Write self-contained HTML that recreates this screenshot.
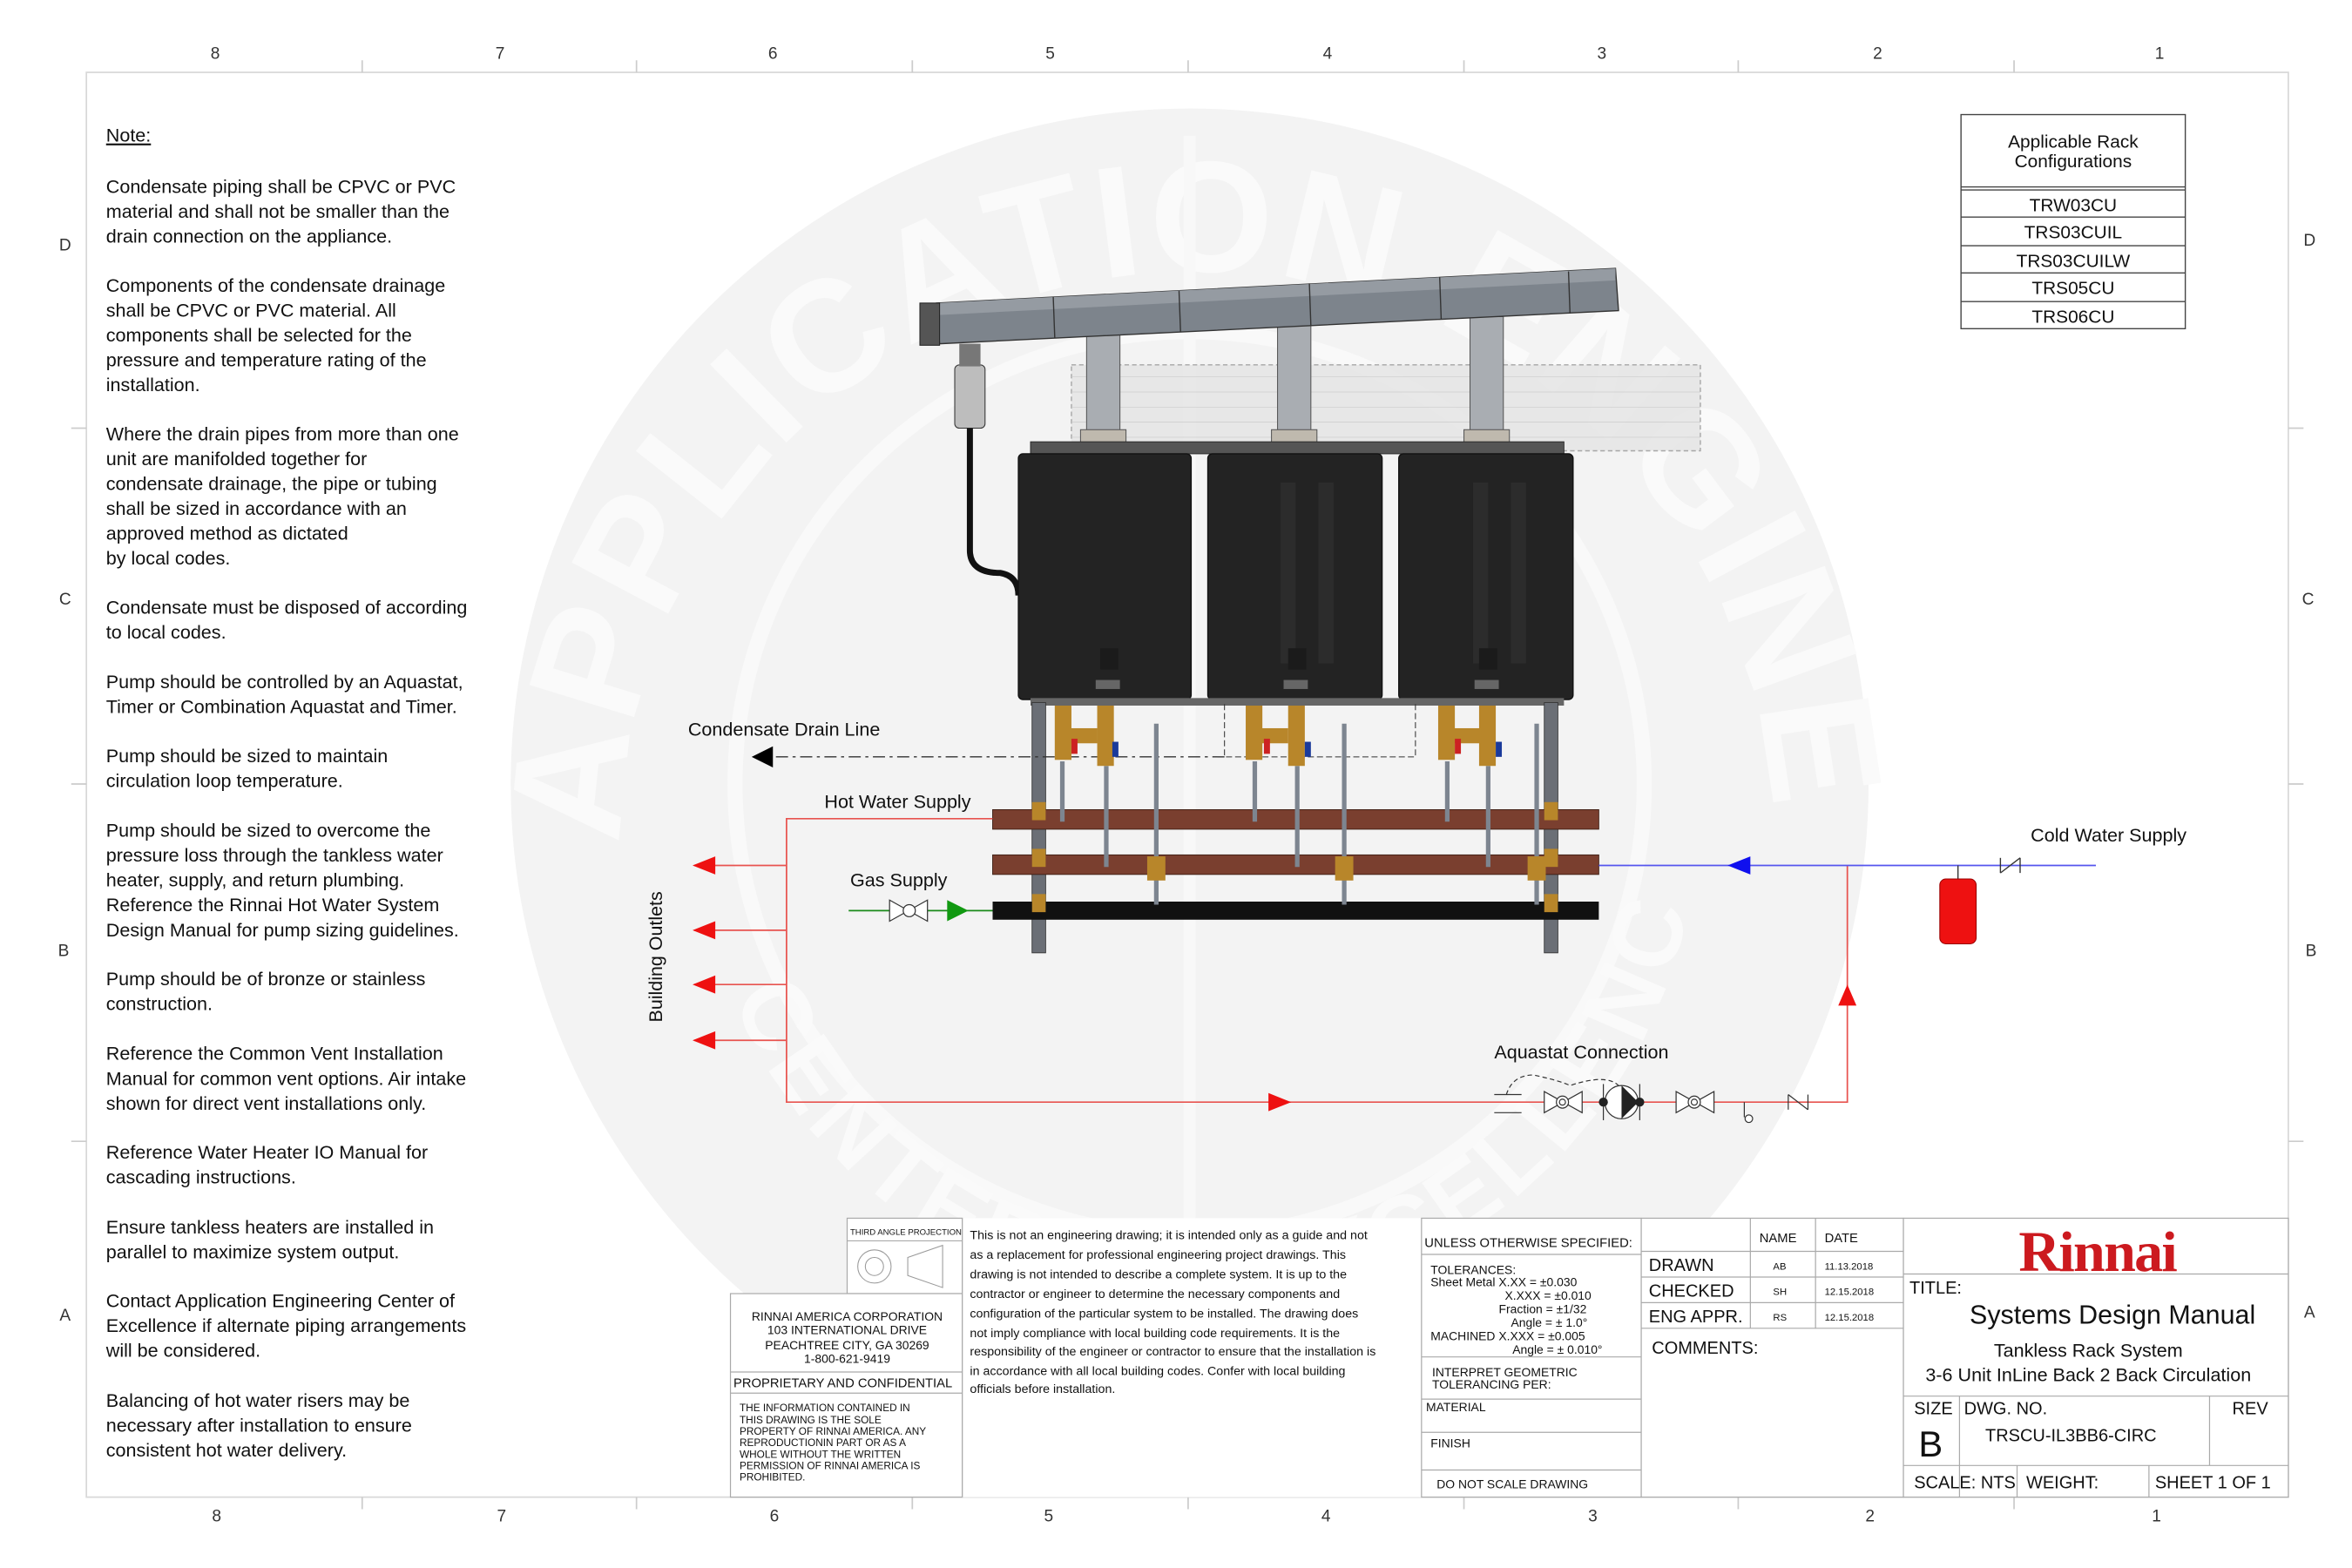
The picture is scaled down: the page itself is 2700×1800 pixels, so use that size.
<!DOCTYPE html>
<html><head><meta charset="utf-8"><style>
html,body{margin:0;padding:0;background:#fff;}
svg{display:block;font-family:"Liberation Sans",sans-serif;}
</style></head><body>
<svg width="2700" height="1800" viewBox="0 0 1552 1040" preserveAspectRatio="none" xmlns="http://www.w3.org/2000/svg">
<defs>
<path id="arcT" d="M 410 560 A 380 380 0 0 1 1170 560"/>
<path id="arcB" d="M 470 620 A 330 330 0 0 0 1110 620"/>
</defs>
<rect width="1552" height="1040" fill="#fff"/>
<!-- watermark -->
<circle cx="785" cy="520" r="448" fill="#f3f3f3"/>
<circle cx="785" cy="520" r="300" fill="none" stroke="#f9f9f9" stroke-width="10"/>
<text font-size="105" font-weight="bold" fill="#fafafa" letter-spacing="2"><textPath href="#arcT">APPLICATION ENGINEERING</textPath></text>
<text font-size="64" font-weight="bold" fill="#fafafa" letter-spacing="4"><textPath href="#arcB" startOffset="5%">CENTER OF EXCELLENCE</textPath></text>
<line x1="785" y1="90" x2="785" y2="990" stroke="#f8f8f8" stroke-width="8"/>
<!-- border -->
<rect x="57" y="48" width="1453" height="945" fill="none" stroke="#d8d8d8" stroke-width="1"/>
<g stroke="#ccc" stroke-width="1">
<line x1="239" y1="40" x2="239" y2="48"/><line x1="420" y1="40" x2="420" y2="48"/><line x1="602" y1="40" x2="602" y2="48"/><line x1="784" y1="40" x2="784" y2="48"/><line x1="966" y1="40" x2="966" y2="48"/><line x1="1147" y1="40" x2="1147" y2="48"/><line x1="1329" y1="40" x2="1329" y2="48"/>
<line x1="239" y1="993" x2="239" y2="1001"/><line x1="420" y1="993" x2="420" y2="1001"/><line x1="602" y1="993" x2="602" y2="1001"/><line x1="784" y1="993" x2="784" y2="1001"/><line x1="966" y1="993" x2="966" y2="1001"/><line x1="1147" y1="993" x2="1147" y2="1001"/><line x1="1329" y1="993" x2="1329" y2="1001"/>
<line x1="47" y1="284" x2="57" y2="284"/><line x1="47" y1="520" x2="57" y2="520"/><line x1="47" y1="757" x2="57" y2="757"/>
<line x1="1510" y1="284" x2="1520" y2="284"/><line x1="1510" y1="520" x2="1520" y2="520"/><line x1="1510" y1="757" x2="1520" y2="757"/>
</g>
<g font-size="11" fill="#333" text-anchor="middle">
<text x="142" y="39">8</text><text x="330" y="39">7</text><text x="510" y="39">6</text><text x="693" y="39">5</text><text x="876" y="39">4</text><text x="1057" y="39">3</text><text x="1239" y="39">2</text><text x="1425" y="39">1</text>
<text x="143" y="1009">8</text><text x="331" y="1009">7</text><text x="511" y="1009">6</text><text x="692" y="1009">5</text><text x="875" y="1009">4</text><text x="1051" y="1009">3</text><text x="1234" y="1009">2</text><text x="1423" y="1009">1</text>
<text x="43" y="166">D</text><text x="43" y="401">C</text><text x="42" y="634">B</text><text x="43" y="876">A</text>
<text x="1524" y="163">D</text><text x="1523" y="401">C</text><text x="1525" y="634">B</text><text x="1524" y="874">A</text>
</g>
<!-- notes -->
<g font-size="12.4" fill="#111">
<text x="70" y="94" text-decoration="underline">Note:</text>
<text x="70" y="128">Condensate piping shall be CPVC or PVC</text>
<text x="70" y="144.5">material and shall not be smaller than the</text>
<text x="70" y="161">drain connection on the appliance.</text>
<text x="70" y="193.5">Components of the condensate drainage</text>
<text x="70" y="210">shall be CPVC or PVC material. All</text>
<text x="70" y="226.5">components shall be selected for the</text>
<text x="70" y="243">pressure and temperature rating of the</text>
<text x="70" y="259.5">installation.</text>
<text x="70" y="292">Where the drain pipes from more than one</text>
<text x="70" y="308.5">unit are manifolded together for</text>
<text x="70" y="325">condensate drainage, the pipe or tubing</text>
<text x="70" y="341.5">shall be sized in accordance with an</text>
<text x="70" y="358">approved method as dictated</text>
<text x="70" y="374.5">by local codes.</text>
<text x="70" y="407">Condensate must be disposed of according</text>
<text x="70" y="423.5">to local codes.</text>
<text x="70" y="456.5">Pump should be controlled by an Aquastat,</text>
<text x="70" y="473">Timer or Combination Aquastat and Timer.</text>
<text x="70" y="505.5">Pump should be sized to maintain</text>
<text x="70" y="522">circulation loop temperature.</text>
<text x="70" y="555">Pump should be sized to overcome the</text>
<text x="70" y="571.5">pressure loss through the tankless water</text>
<text x="70" y="588">heater, supply, and return plumbing.</text>
<text x="70" y="604.5">Reference the Rinnai Hot Water System</text>
<text x="70" y="621">Design Manual for pump sizing guidelines.</text>
<text x="70" y="653.5">Pump should be of bronze or stainless</text>
<text x="70" y="670">construction.</text>
<text x="70" y="703">Reference the Common Vent Installation</text>
<text x="70" y="719.5">Manual for common vent options. Air intake</text>
<text x="70" y="736">shown for direct vent installations only.</text>
<text x="70" y="768.5">Reference Water Heater IO Manual for</text>
<text x="70" y="785">cascading instructions.</text>
<text x="70" y="818">Ensure tankless heaters are installed in</text>
<text x="70" y="834.5">parallel to maximize system output.</text>
<text x="70" y="867">Contact Application Engineering Center of</text>
<text x="70" y="883.5">Excellence if alternate piping arrangements</text>
<text x="70" y="900">will be considered.</text>
<text x="70" y="933">Balancing of hot water risers may be</text>
<text x="70" y="949.5">necessary after installation to ensure</text>
<text x="70" y="966">consistent hot water delivery.</text>
</g>
<!-- config table -->
<rect x="1294" y="76" width="148" height="142" fill="#fff" stroke="#444" stroke-width="0.8"/>
<g stroke="#444" stroke-width="0.8">
<line x1="1294" y1="124" x2="1442" y2="124"/><line x1="1294" y1="126" x2="1442" y2="126"/>
<line x1="1294" y1="144" x2="1442" y2="144"/><line x1="1294" y1="163" x2="1442" y2="163"/><line x1="1294" y1="181" x2="1442" y2="181"/><line x1="1294" y1="200" x2="1442" y2="200"/>
</g>
<g font-size="12" fill="#111" text-anchor="middle">
<text x="1368" y="98">Applicable Rack</text><text x="1368" y="111">Configurations</text>
<text x="1368" y="140">TRW03CU</text><text x="1368" y="158">TRS03CUIL</text><text x="1368" y="177">TRS03CUILW</text><text x="1368" y="195">TRS05CU</text><text x="1368" y="214">TRS06CU</text>
</g>
<!-- grid intake -->
<rect x="707" y="242" width="415" height="57" fill="#e6e6e6" stroke="#999" stroke-dasharray="3,2" stroke-width="0.8" opacity="0.85"/>
<g stroke="#ccc" stroke-width="0.4">
<line x1="707" y1="250" x2="1122" y2="250"/><line x1="707" y1="260" x2="1122" y2="260"/><line x1="707" y1="270" x2="1122" y2="270"/><line x1="707" y1="280" x2="1122" y2="280"/><line x1="707" y1="290" x2="1122" y2="290"/>
</g>
<!-- vent risers -->
<g fill="#a9adb2" stroke="#555" stroke-width="0.6">
<rect x="717" y="222" width="22" height="72"/><rect x="843" y="215" width="22" height="79"/><rect x="970" y="210" width="22" height="84"/>
<rect x="713" y="285" width="30" height="10" fill="#bfb9ae"/><rect x="839" y="285" width="30" height="10" fill="#bfb9ae"/><rect x="966" y="285" width="30" height="10" fill="#bfb9ae"/>
</g>
<!-- vent pipe -->
<polygon points="618,201 1066,178 1068,206 620,228" fill="#7d848c" stroke="#333" stroke-width="0.8"/>
<polygon points="618,201 1066,178 1066,186 618,209" fill="#959ba2"/>
<g stroke="#333" stroke-width="0.8">
<line x1="695" y1="197" x2="696" y2="224"/><line x1="778" y1="193" x2="779" y2="220"/><line x1="864" y1="188" x2="865" y2="216"/><line x1="950" y1="184" x2="951" y2="212"/><line x1="1035" y1="180" x2="1036" y2="208"/>
</g>
<rect x="607" y="201" width="13" height="28" fill="#555" stroke="#222" stroke-width="0.6"/>
<!-- condensate trap -->
<rect x="630" y="242" width="20" height="42" rx="3" fill="#bdbdbd" stroke="#333" stroke-width="0.6"/>
<rect x="633" y="228" width="14" height="15" fill="#777"/>
<path d="M640 284 L640 365 Q640 380 660 380 Q672 382 672 395" fill="none" stroke="#111" stroke-width="4"/>
<!-- rack top -->
<rect x="680" y="293" width="352" height="8" fill="#555" stroke="#222" stroke-width="0.5"/>
<!-- heaters -->
<g fill="#232323" stroke="#111" stroke-width="0.8">
<rect x="672" y="301" width="114" height="163" rx="3"/>
<rect x="797" y="301" width="115" height="163" rx="3"/>
<rect x="923" y="301" width="115" height="163" rx="3"/>
</g>
<g fill="#2c2c2c">
<rect x="845" y="320" width="10" height="120"/><rect x="870" y="320" width="10" height="120"/><rect x="972" y="320" width="10" height="120"/><rect x="997" y="320" width="10" height="120"/>
</g>
<g fill="#1b1b1b"><rect x="726" y="430" width="12" height="14"/><rect x="850" y="430" width="12" height="14"/><rect x="976" y="430" width="12" height="14"/></g>
<g fill="#666"><rect x="723" y="451" width="16" height="6"/><rect x="847" y="451" width="16" height="6"/><rect x="973" y="451" width="16" height="6"/></g>
<rect x="680" y="463" width="352" height="5" fill="#666"/>
<!-- legs -->
<rect x="681" y="466" width="9" height="166" fill="#6b6f76" stroke="#333" stroke-width="0.5"/>
<rect x="1019" y="466" width="9" height="166" fill="#6b6f76" stroke="#333" stroke-width="0.5"/>
<!-- condensate line -->
<line x1="808" y1="502" x2="512" y2="502" stroke="#333" stroke-width="0.8" stroke-dasharray="8,3,2,3"/>
<polygon points="496,502 510,495 510,509" fill="#000"/>
<path d="M808 467 V502 H934 V467" fill="none" stroke="#333" stroke-width="0.6" stroke-dasharray="4,2"/>
<!-- headers -->
<rect x="655" y="537" width="400" height="13" fill="#7a3f2f" stroke="#3a1c12" stroke-width="0.5"/>
<rect x="655" y="567" width="400" height="13" fill="#7a3f2f" stroke="#3a1c12" stroke-width="0.5"/>
<rect x="655" y="598" width="400" height="12" fill="#111"/>
<!-- drops -->
<g stroke="#7d8590" stroke-width="3" fill="none">
<line x1="701" y1="505" x2="701" y2="545"/><line x1="730" y1="508" x2="730" y2="575"/><line x1="763" y1="480" x2="763" y2="600"/>
<line x1="828" y1="505" x2="828" y2="545"/><line x1="856" y1="508" x2="856" y2="575"/><line x1="887" y1="480" x2="887" y2="600"/>
<line x1="955" y1="505" x2="955" y2="545"/><line x1="982" y1="508" x2="982" y2="575"/><line x1="1014" y1="480" x2="1014" y2="600"/>
</g>
<g fill="#b8862a">
<rect x="696" y="468" width="11" height="36"/><rect x="724" y="468" width="11" height="40"/><rect x="704" y="483" width="20" height="10"/>
<rect x="822" y="468" width="11" height="36"/><rect x="850" y="468" width="11" height="40"/><rect x="830" y="483" width="20" height="10"/>
<rect x="949" y="468" width="11" height="36"/><rect x="976" y="468" width="11" height="40"/><rect x="957" y="483" width="20" height="10"/>
<rect x="757" y="568" width="12" height="16"/><rect x="881" y="568" width="12" height="16"/><rect x="1008" y="568" width="12" height="16"/>
<rect x="681" y="532" width="9" height="12"/><rect x="681" y="563" width="9" height="12"/><rect x="681" y="593" width="9" height="12"/>
<rect x="1019" y="532" width="9" height="12"/><rect x="1019" y="563" width="9" height="12"/><rect x="1019" y="593" width="9" height="12"/>
</g>
<g fill="#c22"><rect x="707" y="490" width="4" height="10"/><rect x="834" y="490" width="4" height="10"/><rect x="960" y="490" width="4" height="10"/></g>
<g fill="#1a3a9a"><rect x="734" y="492" width="4" height="10"/><rect x="861" y="492" width="4" height="10"/><rect x="987" y="492" width="4" height="10"/></g>
<!-- red piping -->
<g stroke="#e8534f" stroke-width="1" fill="none">
<polyline points="655,543 519,543 519,731 1219,731 1219,574"/>
<line x1="458" y1="574" x2="519" y2="574"/><line x1="458" y1="617" x2="519" y2="617"/><line x1="458" y1="653" x2="519" y2="653"/><line x1="458" y1="690" x2="519" y2="690"/>
</g>
<g fill="#ee1111">
<polygon points="457,574 472,568 472,580"/><polygon points="457,617 472,611 472,623"/><polygon points="457,653 472,647 472,659"/><polygon points="457,690 472,684 472,696"/>
<polygon points="852,731 837,725 837,737"/>
<polygon points="1219,653 1213,667 1225,667"/>
</g>
<!-- cold water -->
<line x1="1055" y1="574" x2="1383" y2="574" stroke="#5555ee" stroke-width="1"/>
<polygon points="1140,574 1155,568 1155,580" fill="#1010ee"/>
<line x1="1292" y1="574" x2="1292" y2="584" stroke="#333" stroke-width="0.8"/>
<rect x="1280" y="583" width="24" height="43" rx="4" fill="#ee1111" stroke="#900" stroke-width="0.6"/>
<g stroke="#333" stroke-width="0.8" fill="none"><line x1="1320" y1="569" x2="1320" y2="579"/><line x1="1333" y1="569" x2="1333" y2="579"/><line x1="1320" y1="579" x2="1333" y2="569"/></g>
<!-- gas -->
<line x1="560" y1="604" x2="655" y2="604" stroke="#1a8a1a" stroke-width="1"/>
<g stroke="#333" stroke-width="0.7" fill="#fff"><polygon points="587,597 587,611 612,597 612,611"/><circle cx="600" cy="604" r="4"/></g>
<polygon points="639,604 625,597 625,611" fill="#119911"/>
<!-- aquastat assembly -->
<g stroke="#333" stroke-width="0.7" fill="#fff">
<line x1="986" y1="726" x2="1004" y2="726"/><line x1="986" y1="738" x2="1004" y2="738"/>
<path d="M994 726 Q998 713 1012 713 Q1030 717 1036 720 Q1060 712 1068 720" fill="none" stroke-dasharray="3,2"/>
<polygon points="1019,724 1019,738 1044,724 1044,738"/><circle cx="1031" cy="731" r="4"/><circle cx="1031" cy="731" r="2"/>
<polygon points="1106,724 1106,738 1131,724 1131,738"/><circle cx="1118" cy="731" r="4"/><circle cx="1118" cy="731" r="2"/>
<circle cx="1070" cy="731" r="11"/>
<line x1="1058" y1="719" x2="1058" y2="743"/><line x1="1082" y1="719" x2="1082" y2="743"/>
<line x1="1151" y1="731" x2="1151" y2="741"/><circle cx="1154" cy="742" r="2.5"/>
<line x1="1180" y1="726" x2="1180" y2="736"/><line x1="1193" y1="726" x2="1193" y2="736"/><line x1="1180" y1="726" x2="1193" y2="736"/>
</g>
<polygon points="1070,720 1081,731 1070,742" fill="#222"/>
<circle cx="1058" cy="731" r="3" fill="#222"/><circle cx="1082" cy="731" r="3" fill="#222"/>
<!-- labels -->
<g font-size="12.4" fill="#111">
<text x="454" y="488">Condensate Drain Line</text>
<text x="544" y="536">Hot Water Supply</text>
<text x="561" y="588">Gas Supply</text>
<text x="1340" y="558">Cold Water Supply</text>
<text x="986" y="702">Aquastat Connection</text>
<text transform="translate(437,678) rotate(-90)">Building Outlets</text>
</g>
<!-- title block -->
<g fill="#fff" stroke="#aaa" stroke-width="0.7">
<rect x="559" y="808" width="76" height="50"/>
<rect x="482" y="858" width="153" height="135"/>
<rect x="635" y="808" width="303" height="185" stroke="none"/>
<rect x="938" y="808" width="145" height="185"/>
<rect x="1083" y="808" width="173" height="185"/>
<rect x="1256" y="808" width="254" height="185"/>
</g>
<g stroke="#aaa" stroke-width="0.7">
<line x1="559" y1="823" x2="635" y2="823"/>
<line x1="635" y1="808" x2="635" y2="993"/>
<line x1="482" y1="910" x2="635" y2="910"/><line x1="482" y1="924" x2="635" y2="924"/>
<line x1="938" y1="832" x2="1083" y2="832"/><line x1="938" y1="900" x2="1083" y2="900"/><line x1="938" y1="928" x2="1083" y2="928"/><line x1="938" y1="950" x2="1083" y2="950"/><line x1="938" y1="975" x2="1083" y2="975"/>
<line x1="1083" y1="830" x2="1256" y2="830"/><line x1="1083" y1="847" x2="1256" y2="847"/><line x1="1083" y1="864" x2="1256" y2="864"/><line x1="1083" y1="881" x2="1256" y2="881"/>
<line x1="1155" y1="808" x2="1155" y2="881"/><line x1="1198" y1="808" x2="1198" y2="881"/>
<line x1="1256" y1="845" x2="1510" y2="845"/><line x1="1256" y1="926" x2="1510" y2="926"/><line x1="1256" y1="972" x2="1510" y2="972"/>
<line x1="1293" y1="926" x2="1293" y2="993"/><line x1="1458" y1="926" x2="1458" y2="972"/><line x1="1331" y1="972" x2="1331" y2="993"/><line x1="1418" y1="972" x2="1418" y2="993"/>
</g>
<g stroke="#999" stroke-width="0.6" fill="none"><circle cx="577" cy="840" r="11"/><circle cx="577" cy="840" r="6"/><polygon points="599,834 622,826 622,854 599,846"/></g>
<g fill="#111">
<text x="561" y="819" font-size="5.5">THIRD ANGLE PROJECTION</text>
<g font-size="8" text-anchor="middle"><text x="559" y="876">RINNAI AMERICA CORPORATION</text><text x="559" y="885">103 INTERNATIONAL DRIVE</text><text x="559" y="895">PEACHTREE CITY, GA  30269</text><text x="559" y="904">1-800-621-9419</text></g>
<text x="484" y="920" font-size="8.5">PROPRIETARY AND CONFIDENTIAL</text>
<g font-size="6.8"><text x="488" y="936">THE INFORMATION CONTAINED IN</text><text x="488" y="944">THIS DRAWING IS THE SOLE</text><text x="488" y="951.5">PROPERTY OF RINNAI AMERICA. ANY</text><text x="488" y="959">REPRODUCTIONIN PART OR AS A</text><text x="488" y="967">WHOLE WITHOUT THE WRITTEN</text><text x="488" y="974.5">PERMISSION OF RINNAI AMERICA IS</text><text x="488" y="982">PROHIBITED.</text></g>
<g font-size="8.2"><text x="640" y="822">This is not an engineering drawing; it is intended only as a guide and not</text><text x="640" y="835">as a replacement for professional engineering project drawings. This</text><text x="640" y="848">drawing is not intended to describe a complete system. It is up to the</text><text x="640" y="861">contractor or engineer to determine the necessary components and</text><text x="640" y="874">configuration of the particular system to be installed. The drawing does</text><text x="640" y="887">not imply compliance with local building code requirements. It is the</text><text x="640" y="899">responsibility of the engineer or contractor to ensure that the installation is</text><text x="640" y="912">in accordance with all local building codes. Confer with local building</text><text x="640" y="924">officials before installation.</text></g>
<text x="940" y="827" font-size="8.5">UNLESS OTHERWISE SPECIFIED:</text>
<g font-size="8"><text x="944" y="845">TOLERANCES:</text><text x="944" y="853">Sheet Metal  X.XX  =  ±0.030</text><text x="993" y="862">X.XXX =  ±0.010</text><text x="989" y="871">Fraction = ±1/32</text><text x="997" y="880">Angle = ± 1.0°</text><text x="944" y="889">MACHINED X.XXX = ±0.005</text><text x="998" y="898">Angle = ± 0.010°</text>
<text x="945" y="913">INTERPRET GEOMETRIC</text><text x="945" y="921">TOLERANCING PER:</text><text x="941" y="936">MATERIAL</text><text x="944" y="960">FINISH</text><text x="948" y="987">DO NOT SCALE DRAWING</text></g>
<g font-size="11.5"><text x="1088" y="843">DRAWN</text><text x="1088" y="860">CHECKED</text><text x="1088" y="877">ENG APPR.</text><text x="1090" y="898">COMMENTS:</text></g>
<g font-size="8.5"><text x="1161" y="824">NAME</text><text x="1204" y="824">DATE</text></g>
<g font-size="6.5"><text x="1170" y="842">AB</text><text x="1170" y="859">SH</text><text x="1170" y="876">RS</text><text x="1204" y="842">11.13.2018</text><text x="1204" y="859">12.15.2018</text><text x="1204" y="876">12.15.2018</text></g>
<text x="1384" y="843" font-size="38" font-weight="bold" font-family="Liberation Serif,serif" fill="#cc1a1f" text-anchor="middle" letter-spacing="-1">Rinnai</text>
<text x="1260" y="858" font-size="11.5">TITLE:</text>
<text x="1394" y="878" font-size="17.5" text-anchor="middle">Systems Design Manual</text>
<text x="1378" y="900" font-size="12.4" text-anchor="middle">Tankless Rack System</text>
<text x="1378" y="916" font-size="12.4" text-anchor="middle">3-6 Unit InLine Back 2 Back Circulation</text>
<g font-size="11.5"><text x="1263" y="938">SIZE</text><text x="1296" y="938">DWG.  NO.</text><text x="1473" y="938">REV</text><text x="1310" y="956">TRSCU-IL3BB6-CIRC</text><text x="1263" y="987">SCALE: NTS</text><text x="1337" y="987">WEIGHT:</text><text x="1422" y="987">SHEET 1 OF 1</text></g>
<text x="1266" y="966" font-size="24">B</text>
</g>
</svg>
</body></html>
